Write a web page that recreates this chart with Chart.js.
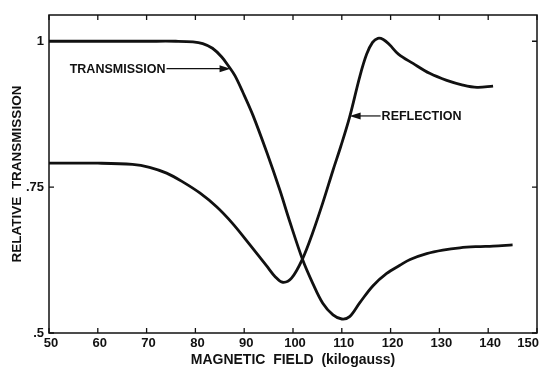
<!DOCTYPE html>
<html>
<head>
<meta charset="utf-8">
<script src="https://cdn.jsdelivr.net/npm/chart.js@4.4.1/dist/chart.umd.min.js"></script>
<style>
  html, body { margin: 0; padding: 0; background: #fff; }
  #wrap { width: 542px; height: 369px; }
</style>
</head>
<body>
<div id="wrap"><canvas id="chart" width="542" height="369"></canvas></div>
<script>
// Data (field in kilogauss, relative transmission)
const transField = [50, 60, 70, 76, 79.5, 81.5, 83.5, 85.4, 87, 88.1, 89.7, 91.8, 94.7, 97.3, 99.3, 102, 104, 106.1, 108.2, 110, 111.6, 113.7, 116.4, 119.2, 121.9, 124, 127.4, 130.7, 134.2, 137.7, 141, 145];
const transValues = [1.0, 1.0, 1.0, 1.0, 0.999, 0.996, 0.988, 0.973, 0.955, 0.941, 0.913, 0.873, 0.808, 0.745, 0.692, 0.625, 0.586, 0.551, 0.531, 0.524, 0.528, 0.552, 0.581, 0.602, 0.616, 0.626, 0.636, 0.642, 0.646, 0.648, 0.649, 0.651];

const reflField = [50, 60, 67.1, 70.6, 74.1, 77.4, 80.9, 84.4, 87.6, 91.1, 94.6, 96.3, 97.9, 99.7, 102, 104, 106.1, 108.2, 109.8, 111.6, 113.7, 115.1, 116.3, 117.4, 118.5, 119.8, 121.6, 124.6, 128, 131.5, 134.8, 137.7, 141];
const reflValues = [0.791, 0.791, 0.789, 0.784, 0.774, 0.759, 0.740, 0.716, 0.688, 0.652, 0.615, 0.597, 0.587, 0.594, 0.628, 0.671, 0.723, 0.779, 0.820, 0.870, 0.940, 0.978, 0.998, 1.005, 1.003, 0.994, 0.978, 0.962, 0.945, 0.933, 0.925, 0.921, 0.923];

const xTicks = [50, 60, 70, 80, 90, 100, 110, 120, 130, 140, 150];
const yTicks = [0.5, 0.75, 1];
const yTickLabels = ['.5', '.75', '1'];

// label name, field value the arrow points at, value, side of the text
const labels = [
  { text: 'TRANSMISSION', x: 87.2, y: 0.953, side: 'left', len: 64 },
  { text: 'REFLECTION', x: 111.6, y: 0.872, side: 'right', len: 31 }
];

const ink = '#111';
const FAMILY = '"Liberation Sans", Arial, sans-serif';

const toPoints = (xs, ys) => xs.map((x, i) => ({ x: x, y: ys[i] }));

// frame, inward tick marks, x tick labels and the arrow labels
const framePlugin = {
  id: 'frame',
  afterDatasetsDraw(chart) {
    const { ctx, chartArea: a, scales } = chart;
    const xs = scales.x, ys = scales.y;
    ctx.save();
    ctx.strokeStyle = ink;
    ctx.lineWidth = 1.5;
    ctx.strokeRect(a.left, a.top, a.right - a.left, a.bottom - a.top);

    ctx.lineWidth = 1.3;
    const t = 5;
    ctx.font = 'bold 13px ' + FAMILY;
    ctx.fillStyle = ink;
    ctx.textBaseline = 'middle';
    xTicks.forEach((v, i) => {
      const px = xs.getPixelForValue(v);
      ctx.beginPath();
      ctx.moveTo(px, a.bottom); ctx.lineTo(px, a.bottom - t);
      ctx.moveTo(px, a.top); ctx.lineTo(px, a.top + t);
      ctx.stroke();
      const last = i === xTicks.length - 1;
      ctx.textAlign = last ? 'right' : 'center';
      ctx.fillText(String(v), px + 2, a.bottom + 10);
    });
    yTicks.forEach(v => {
      const py = ys.getPixelForValue(v);
      ctx.beginPath();
      ctx.moveTo(a.left, py); ctx.lineTo(a.left + t, py);
      ctx.moveTo(a.right, py); ctx.lineTo(a.right - t, py);
      ctx.stroke();
    });

    ctx.font = 'bold 12.5px ' + FAMILY;
    labels.forEach(l => {
      const tx = xs.getPixelForValue(l.x);
      const ty = ys.getPixelForValue(l.y);
      const dir = l.side === 'left' ? -1 : 1;
      const start = tx + dir * l.len;
      ctx.lineWidth = 1.2;
      ctx.beginPath();
      ctx.moveTo(start, ty); ctx.lineTo(tx + dir * 8, ty);
      ctx.stroke();
      ctx.beginPath();
      ctx.moveTo(tx, ty);
      ctx.lineTo(tx + dir * 11, ty - 3.5);
      ctx.lineTo(tx + dir * 11, ty + 3.5);
      ctx.closePath();
      ctx.fill();
      ctx.textAlign = l.side === 'left' ? 'right' : 'left';
      ctx.fillText(l.text, start + dir * 1, ty + 1);
    });
    ctx.restore();
  }
};

new Chart(document.getElementById('chart'), {
  type: 'line',
  data: {
    datasets: [
      {
        label: 'Transmission',
        data: toPoints(transField, transValues),
        borderColor: ink,
        borderWidth: 2.8,
        pointRadius: 0,
        tension: 0.35,
        fill: false
      },
      {
        label: 'Reflection',
        data: toPoints(reflField, reflValues),
        borderColor: ink,
        borderWidth: 2.8,
        pointRadius: 0,
        tension: 0.35,
        fill: false
      }
    ]
  },
  options: {
    responsive: false,
    animation: false,
    layout: { padding: { top: 15, right: 5, left: 0, bottom: 0 } },
    plugins: { legend: { display: false }, tooltip: { enabled: false } },
    scales: {
      x: {
        type: 'linear',
        min: 50,
        max: 150,
        afterBuildTicks: s => { s.ticks = xTicks.map(v => ({ value: v })); },
        afterFit: s => { s.height = 36; s.paddingLeft = 0; s.paddingRight = 0; },
        grid: { display: false, drawTicks: false, tickLength: 0 },
        border: { display: false },
        ticks: { display: false },
        title: {
          display: true,
          text: 'MAGNETIC  FIELD  (kilogauss)',
          color: ink,
          font: { family: FAMILY, size: 14, weight: 'bold' },
          padding: { top: 0, bottom: 0 }
        }
      },
      y: {
        type: 'linear',
        min: 0.5,
        max: 1.045,
        afterBuildTicks: s => { s.ticks = yTicks.map(v => ({ value: v })); },
        afterFit: s => { s.width = 49; s.paddingTop = 0; s.paddingBottom = 0; },
        grid: { display: false, drawTicks: false, tickLength: 0 },
        border: { display: false },
        ticks: {
          color: ink,
          font: { family: FAMILY, size: 13, weight: 'bold' },
          padding: 5,
          callback: v => yTickLabels[yTicks.indexOf(v)]
        },
        title: {
          display: true,
          text: 'RELATIVE  TRANSMISSION',
          color: ink,
          font: { family: FAMILY, size: 13.5, weight: 'bold' },
          padding: { top: 9, bottom: 0 }
        }
      }
    }
  },
  plugins: [framePlugin]
});
</script>
</body>
</html>
